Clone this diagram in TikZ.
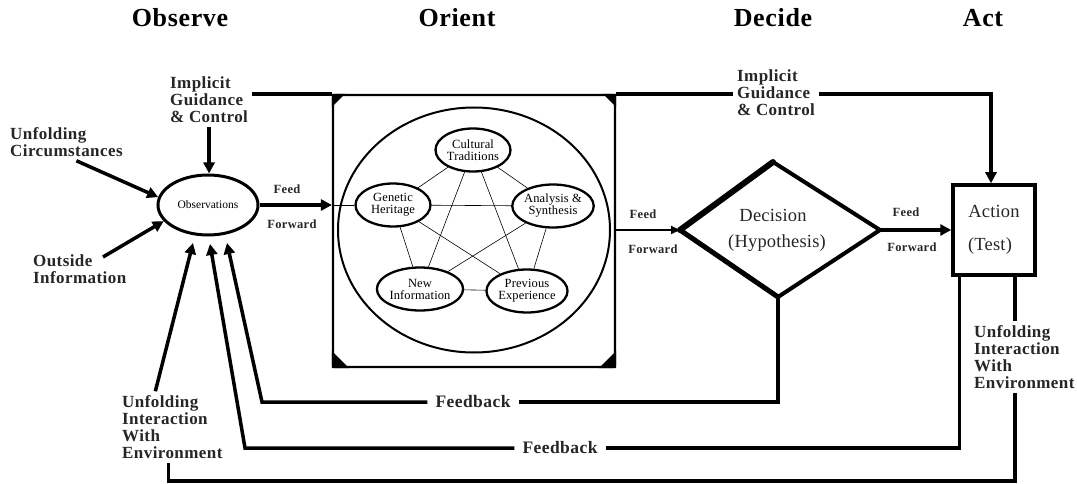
\documentclass[tikz,border=0pt]{standalone}
\usepackage{fontspec}
\setmainfont{Liberation Serif}
\newfontfamily\lsf[LetterSpace=2.5]{Liberation Serif}
\newfontfamily\lsm[LetterSpace=1]{Liberation Serif}
\usetikzlibrary{arrows.meta,shapes.geometric,calc}
\begin{document}
\begin{tikzpicture}[x=1pt,y=-1pt,
  conn/.style={line width=3.5pt},
  arr/.style={line width=3.5pt,-{Triangle[length=11pt,width=11pt]}},
  lbl/.style={font=\lsf\bfseries\fontsize{17}{17}\selectfont, align=left, inner sep=4pt, text=black!85},
  fbk/.style={font=\lsf\bfseries\fontsize{17.5}{17}\selectfont, inner xsep=8pt, inner ysep=3pt, text=black!85},
  ttl/.style={font=\lsf\bfseries\fontsize{26}{28}\selectfont},
  ff/.style={font=\lsf\bfseries\fontsize{12.5}{13}\selectfont, text=black!85},
  big/.style={font=\lsm\fontsize{18.5}{20}\selectfont, text=black!85},
  inell/.style={ellipse, draw, fill=white, line width=2.3pt, minimum width=75pt, minimum height=43pt, inner sep=0pt, align=center, font=\lsm\fontsize{12.5}{12}\selectfont},
  thinl/.style={line width=0.6pt}
]
\useasboundingbox (0,0) rectangle (1077,484);
\fill[white] (0,0) rectangle (1077,484);

% titles
\node[ttl] (tObs) at (180,18) {Observe};
\node[ttl] (tOri) at (457,18) {Orient};
\node[ttl] (tDec) at (773,18) {Decide};
\node[ttl] (tAct) at (983,18) {Act};

% observe
\node[ellipse, draw, line width=3pt, minimum width=100pt, minimum height=60pt, inner sep=0pt,
      font=\fontsize{11.5}{12}\selectfont] (obs) at (208,205) {Observations};
\node[lbl, anchor=west] (igL) at (166,100) {Implicit\\Guidance\\\& Control};
\node[lbl, anchor=west] (uc) at (6,142) {Unfolding\\Circumstances};
\node[lbl, anchor=west] (oi) at (29,269) {Outside\\Information};
\node[lbl, anchor=west] (uieL) at (118,427) {Unfolding\\Interaction\\With\\Environment};

\coordinate (oiT) at (103,257);
\coordinate (tA) at (193,243);
\coordinate (tB) at (210,244);
\coordinate (tC) at (227,243);

\draw[arr] (igL.south) -- (igL.south |- obs.north);
\draw[arr] ([xshift=10pt]uc.south) -- (obs.171);
\draw[arr] (oiT) -- (obs.200);

% orient
\node[draw, line width=2.2pt, rounded corners=2pt, minimum width=282pt, minimum height=272pt] (orient) at (474,231) {};
\fill (orient.north west) -- ++(13,0) -- ++(-13,13) -- cycle;
\fill (orient.north east) -- ++(-13,0) -- ++(13,13) -- cycle;
\fill (orient.south west) -- ++(17,0) -- ++(-17,-17) -- cycle;
\fill (orient.south east) -- ++(-17,0) -- ++(17,-17) -- cycle;
\node[ellipse, draw, line width=2pt, minimum width=272pt, minimum height=245pt] (bigc) at (474,230) {};

\node[inell] (ct) at (473,150) {Cultural\\Traditions};
\node[inell] (gh) at (393,205) {Genetic\\Heritage};
\node[inell] (as) at (553,206) {Analysis \&\\Synthesis};
\node[inell] (ni) at (420,289) {New\\Information};
\node[inell] (pe) at (527,291) {Previous\\Experience};
\foreach \a/\b in {ct/gh,ct/as,ct/ni,ct/pe,gh/as,gh/ni,gh/pe,as/ni,as/pe,ni/pe}
  \draw[thinl] (\a) -- (\b);

\draw[arr] (obs.east) -- (obs.east -| orient.west);
\draw[thinl] (obs.east -| orient.west) -- (gh.west);
\node[ff] (ff1a) at (287,189) {Feed};
\node[ff] (ff1b) at (292,224) {Forward};

% decide
\coordinate (dL) at (680,230);
\coordinate (dT) at (773,162);
\coordinate (dR) at (880,230);
\coordinate (dB) at (778,297);
\draw[line width=4pt, line join=round] (dL) -- (dT) -- (dR) -- (dB) -- cycle;
\draw[line width=6pt, line cap=round] (dL) -- (dT);
\draw[line width=5pt, line cap=round] (dL) -- (dB);
\node[big] (decT) at (773,215) {Decision};
\node[big] (decH) at (777,243) {(Hypothesis)};
\draw[line width=2.5pt, -{Triangle[length=9pt,width=8pt]}] (orient.east |- dL) -- (dL);
\node[ff] (ff2a) at (643,214) {Feed};
\node[ff] (ff2b) at (653,249) {Forward};

% act
\node[draw, line width=3.5pt, minimum width=82pt, minimum height=90pt] (act) at (994,230) {};
\node[big] (actA) at (994,211) {Action};
\node[big] (actT) at (990,246) {(Test)};
\draw[arr] (dR) -- (act.west);
\node[ff] (ff3a) at (906,212) {Feed};
\node[ff] (ff3b) at (912,247) {Forward};

% implicit guidance top line
\node[lbl, anchor=west] (igR) at (733,93) {Implicit\\Guidance\\\& Control};
\draw[conn] (igL.east |- orient.north) -- (orient.north west);
\draw[conn] (orient.north east) -- (igR.west |- orient.north);
\draw[arr] (igR.east |- orient.north) -| ([xshift=-3pt]act.north);

% feedback loops
\node[fbk] (fb1) at (473,402) {Feedback};
\node[fbk] (fb2) at (560,448) {Feedback};
\coordinate (c1) at (262,402);
\coordinate (c2) at (245,448);
\draw[conn] (dB) |- (fb1.east);
\draw[arr] (fb1.west) -- (c1) -- (tC);
\coordinate (aL) at ([xshift=8pt]act.south west);
\draw[conn] (aL) |- (fb2.east);
\draw[arr] (fb2.west) -- (c2) -- (tB);

% unfolding interaction loop
\node[lbl, anchor=west] (uieR) at (970,357) {Unfolding\\Interaction\\With\\Environment};
\coordinate (aR) at ([xshift=-22pt]act.south east);
\coordinate (botl) at (600,481);
\draw[conn] (aR) -- (aR |- uieR.north);
\draw[conn] (aR |- uieR.south) -- (aR |- botl) -| ([xshift=-4pt]uieL.south);
\draw[arr] ([xshift=-17pt]uieL.north) -- (tA);
\end{tikzpicture}
\end{document}
